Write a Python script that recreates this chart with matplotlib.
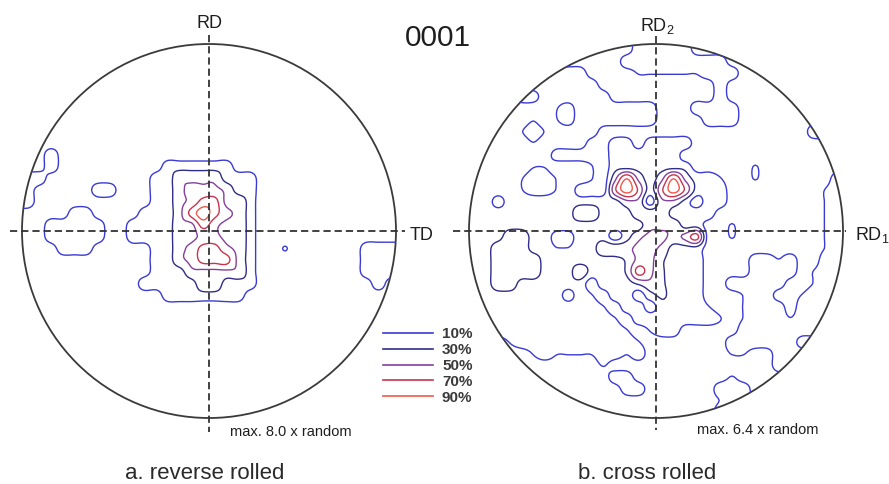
import numpy as np
import matplotlib
matplotlib.use("Agg")
import matplotlib.pyplot as plt
from matplotlib.patches import Circle

plt.rcParams['font.family'] = ['Liberation Sans', 'DejaVu Sans']

# contour levels (percent of max) and their colours
level_pct = [10, 30, 50, 70, 90]
level_labels = ["10%", "30%", "50%", "70%", "90%"]
level_colors = ["#3a3ad6", "#302c88", "#84409a", "#c8344f", "#ef5a4a"]

title = "0001"
max_text = ["max. 8.0 x random", "max. 6.4 x random"]
captions = ["a. reverse rolled", "b. cross rolled"]
top_labels = ["RD", r"RD$_\mathregular{2}$"]
side_labels = ["TD", r"RD$_\mathregular{1}$"]

# intensity, 32x32 cells over the circle,
# in ninths of the maximum (0 = below 10 %, 9 = the peak)
reverse_rolled = [
    "00000000000000000000000000000000",
    "00000000000000000000000000000000",
    "00000000000000000000000000000000",
    "00000000000000000000000000000000",
    "00000000000000000000000000000000",
    "00000000000000000000000000000000",
    "00000000000000000000000000000000",
    "00000000000000000000000000000000",
    "00000000000000000000000000000000",
    "00200000000000000000000000000000",
    "00200000000022222200000000000000",
    "22000000000224444222000000000000",
    "20000022000224555422000000000000",
    "20000000000224577442000000000000",
    "00002200002224797542000000000000",
    "00222220022224475442000000000000",
    "00222220022224455442000000000000",
    "00022200000224577542001000000222",
    "00000000000224577742000000000222",
    "00000000000222444442000000000222",
    "00000000002222244222000000000020",
    "00000000000022222220000000000000",
    "00000000000000000000000000000000",
    "00000000000000000000000000000000",
    "00000000000000000000000000000000",
    "00000000000000000000000000000000",
    "00000000000000000000000000000000",
    "00000000000000000000000000000000",
    "00000000000000000000000000000000",
    "00000000000000000000000000000000",
    "00000000000000000000000000000000",
    "00000000000000000000000000000000",
]

cross_rolled = [
    "00000000000000222220000000000000",
    "00000000000002222222220000000000",
    "22222222220000111111222000000000",
    "22222222222000000000020000000000",
    "22220022222200000000020000000000",
    "22222221022222220002222000000000",
    "22222121022222220000222000000000",
    "22221012222000000000000000000222",
    "22222122220022022220000000000000",
    "22222220000022222200000000000000",
    "22222112221022222220000010000000",
    "22221001221048424842210010000002",
    "22221001200069626962220000000012",
    "22022222222224404420220000000012",
    "22222222244222444222200000000012",
    "22222222222222244422001000000012",
    "22244220022202455457001000000012",
    "22444221122444554222000000000012",
    "22444422222223553222000022120022",
    "22444422242223753222000022220122",
    "22442222220222343222002222200122",
    "22222222021022023222000122001222",
    "22222222222102202222100122202222",
    "22222222222210222222210122212222",
    "22222222222221012200000222222222",
    "00012222222222100000002222220000",
    "00000121111221200000001100222222",
    "00000000000100000000000000222222",
    "00000000000022000000001000000000",
    "00000000000002200000022200000000",
    "00000000000000000000012200000000",
    "00000000000000000000022000000000",
]

for name, g in [("reverse_rolled", reverse_rolled), ("cross_rolled", cross_rolled)]:
    bad = [k for k, row in enumerate(g) if len(row) != 32]
    assert not bad and len(g) == 32, (name, bad)

# layout (pixels)
W, H = 889, 484
R = 187
centers = [(209, 231), (656, 231)]

fig = plt.figure(figsize=(W / 100, H / 100), dpi=100)
ax = fig.add_axes([0, 0, 1, 1])
ax.set_xlim(0, W)
ax.set_ylim(H, 0)
ax.axis('off')


def refine(z, k=6):
    # Catmull-Rom refinement (kept inside each cell's min/max) so the
    # contours come out rounded instead of as 45 degree cuts
    n = z.shape[0]
    t = np.linspace(0, n - 1, (n - 1) * k + 1)
    i = np.clip(np.floor(t).astype(int), 0, n - 2)
    u = t - i

    def along_last(a):
        p0 = a[..., np.clip(i - 1, 0, n - 1)]
        p1 = a[..., i]
        p2 = a[..., i + 1]
        p3 = a[..., np.clip(i + 2, 0, n - 1)]
        return 0.5 * (2 * p1 + (p2 - p0) * u
                      + (2 * p0 - 5 * p1 + 4 * p2 - p3) * u ** 2
                      + (3 * p1 - p0 - 3 * p2 + p3) * u ** 3)

    zf = along_last(along_last(z).T).T
    lo = np.minimum(np.minimum(z[:-1, :-1], z[1:, :-1]),
                    np.minimum(z[:-1, 1:], z[1:, 1:]))
    hi = np.maximum(np.maximum(z[:-1, :-1], z[1:, :-1]),
                    np.maximum(z[:-1, 1:], z[1:, 1:]))
    zf = np.clip(zf, lo[i][:, i], hi[i][:, i])
    return t, zf


def pole_figure(rows, cx, cy):
    z = np.array([[int(c) for c in row] for row in rows], dtype=float)
    n = z.shape[0]
    step = 2 * R / n
    z = np.pad(z, 1, mode='edge')
    t, zf = refine(z)
    xf = cx - R + step * (t - 0.5)
    yf = cy - R + step * (t - 0.5)
    levels = np.array(level_pct) / 100 * z.max()
    cs = ax.contour(xf, yf, zf, levels=levels, colors=level_colors,
                    linewidths=1.0)
    cs.set_clip_path(Circle((cx, cy), R, transform=ax.transData))
    ax.add_patch(Circle((cx, cy), R, fill=False, ec='#3a3a3a', lw=1.3))


for rows, (cx, cy) in zip([reverse_rolled, cross_rolled], centers):
    pole_figure(rows, cx, cy)

dash = dict(color='#333333', lw=1.3, dashes=(4, 2.2))
# left
ax.plot([10, 405], [231, 231], **dash)
ax.plot([209, 209], [35, 432], **dash)
# right
ax.plot([453, 846], [231, 231], **dash)
ax.plot([656, 656], [36, 430], **dash)

txt = dict(color='#1e1e1e')
ax.text(209, 28.5, top_labels[0], ha='center', va='baseline', fontsize=13, **txt)
ax.text(410, 240, side_labels[0], ha='left', va='baseline', fontsize=13, **txt)
ax.text(657, 31.5, top_labels[1], ha='center', va='baseline', fontsize=13, **txt)
ax.text(855, 240, side_labels[1], ha='left', va='baseline', fontsize=13, **txt)

ax.text(438, 46.5, title, ha='center', va='baseline', fontsize=21.5, **txt)

ax.text(230, 436.5, max_text[0], ha='left', va='baseline', fontsize=10.5, **txt)
ax.text(697, 434, max_text[1], ha='left', va='baseline', fontsize=10.5, **txt)

ax.text(205, 479, captions[0], ha='center', va='baseline', fontsize=16, color='#2a2a2a')
ax.text(647, 479, captions[1], ha='center', va='baseline', fontsize=16, color='#2a2a2a')

# legend
leg_y = [333, 349, 365, 380, 396]
for y, c, lab in zip(leg_y, level_colors, level_labels):
    ax.plot([383, 433], [y, y], color=c, lw=1.2)
    ax.text(442, y + 1.5, lab, ha='left', va='center', fontsize=11,
            fontweight='bold', color='#3a3a3a')

fig.savefig("out.png", dpi=100)
